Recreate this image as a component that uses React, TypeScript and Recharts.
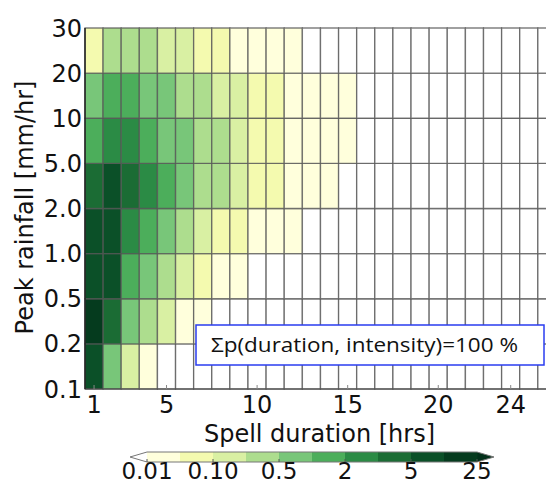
import { Bar, BarChart, Cell, Label, XAxis, YAxis } from "recharts";

const FONT = "'DejaVu Sans', sans-serif";

const DURATIONS = [1, 2, 3, 4, 5, 6, 7, 8, 9, 10, 11, 12, 13, 14, 15, 16, 17, 18, 19, 20, 21, 22, 23, 24, 25, 26];
const X_TICKS = [1, 5, 10, 15, 20, 24];
const Y_TICKS = ["0.1", "0.2", "0.5", "1.0", "2.0", "5.0", "10", "20", "30"];

// probability (%) for each spell duration, one array per peak rainfall band
const P_010_020 = [8.2, 0.8, 0.14, 0.03, 0, 0, 0, 0, 0, 0, 0, 0, 0, 0, 0, 0, 0, 0, 0, 0, 0, 0, 0, 0, 0, 0];
const P_020_050 = [13.5, 4.1, 0.72, 0.34, 0.16, 0.04, 0.02, 0, 0, 0, 0, 0, 0, 0, 0, 0, 0, 0, 0, 0, 0, 0, 0, 0, 0, 0];
const P_050_100 = [8.6, 7.4, 1.6, 0.78, 0.36, 0.17, 0.08, 0.04, 0.02, 0, 0, 0, 0, 0, 0, 0, 0, 0, 0, 0, 0, 0, 0, 0, 0, 0];
const P_100_200 = [6.9, 7.8, 2.4, 1.4, 0.74, 0.33, 0.15, 0.08, 0.06, 0.04, 0.03, 0.02, 0, 0, 0, 0, 0, 0, 0, 0, 0, 0, 0, 0, 0, 0];
const P_200_500 = [4.2, 6.8, 3.9, 2.6, 1.7, 0.8, 0.42, 0.31, 0.16, 0.08, 0.06, 0.04, 0.03, 0.02, 0, 0, 0, 0, 0, 0, 0, 0, 0, 0, 0, 0];
const P_500_10 = [1.8, 2.7, 2.3, 1.4, 0.85, 0.62, 0.38, 0.27, 0.13, 0.09, 0.06, 0.04, 0.03, 0.02, 0.015, 0, 0, 0, 0, 0, 0, 0, 0, 0, 0, 0];
const P_10_20 = [0.9, 1.6, 1.3, 0.8, 0.55, 0.4, 0.25, 0.18, 0.12, 0.08, 0.06, 0.04, 0.03, 0.02, 0.015, 0, 0, 0, 0, 0, 0, 0, 0, 0, 0, 0];
const P_20_30 = [0.07, 0.35, 0.3, 0.25, 0.16, 0.12, 0.08, 0.06, 0.04, 0.03, 0.02, 0.015, 0, 0, 0, 0, 0, 0, 0, 0, 0, 0, 0, 0, 0, 0];

const BANDS = [P_010_020, P_020_050, P_050_100, P_100_200, P_200_500, P_500_10, P_10_20, P_20_30];

const LEVELS = [0.01, 0.05, 0.1, 0.2, 0.5, 1, 2, 3, 5, 10, 25];
const LEVEL_COLORS = [
  "#ffffdc",
  "#f4faaf",
  "#d9f0a3",
  "#addd8e",
  "#78c679",
  "#4cae5b",
  "#2b8b45",
  "#1b6c34",
  "#0b5028",
  "#053b1e",
];
const UNDER_COLOR = "#ffffff";
const OVER_COLOR = "#03301a";
const CBAR_TICKS = [0.01, 0.1, 0.5, 2, 5, 25];
const CBAR_LABELS = ["0.01", "0.10", "0.5", "2", "5", "25"];

function colorFor(v: number) {
  if (v < LEVELS[0]) return UNDER_COLOR;
  for (let i = 0; i < LEVEL_COLORS.length; i++) {
    if (v < LEVELS[i + 1]) return LEVEL_COLORS[i];
  }
  return OVER_COLOR;
}

// every band is one unit tall on the y axis, stacked bottom to top
const tableData = DURATIONS.map((d) => {
  const row: Record<string, number> = { dur: d };
  BANDS.forEach((_, b) => {
    row[`b${b}`] = 1;
  });
  return row;
});

function DurationTick(props: any) {
  const { x, y, payload } = props;
  if (!X_TICKS.includes(payload.value)) return <g />;
  return (
    <g>
      <line x1={x} x2={x} y1={y} y2={y - 4} stroke="#888" />
      <text x={x} y={y + 24} textAnchor="middle" fontSize={24} fill="#111" fontFamily={FONT}>
        {payload.value}
      </text>
    </g>
  );
}

function Colorbar() {
  const x0 = 147;
  const x1 = 477;
  const y0 = 452;
  const h = 10;
  const segW = (x1 - x0) / LEVEL_COLORS.length;
  const posOf = (v: number) => x0 + LEVELS.indexOf(v) * segW;
  return (
    <g>
      <polygon points={`${x0},${y0} ${x0 - 17},${y0 + h / 2} ${x0},${y0 + h}`} fill={UNDER_COLOR} />
      <polygon points={`${x1},${y0} ${x1 + 17},${y0 + h / 2} ${x1},${y0 + h}`} fill={OVER_COLOR} />
      {LEVEL_COLORS.map((c, i) => (
        <rect key={c} x={x0 + i * segW} y={y0} width={segW + 0.5} height={h} fill={c} />
      ))}
      <polygon
        points={`${x0 - 17},${y0 + h / 2} ${x0},${y0} ${x1},${y0} ${x1 + 17},${y0 + h / 2} ${x1},${y0 + h} ${x0},${y0 + h}`}
        fill="none"
        stroke="#777"
        strokeWidth={1}
      />
      {CBAR_TICKS.map((v, i) => (
        <g key={v}>
          <line x1={posOf(v)} x2={posOf(v)} y1={y0 + h} y2={y0 + h - 3} stroke="#555" />
          <text x={posOf(v)} y={479} textAnchor="middle" fontSize={23} fill="#111" fontFamily={FONT}>
            {CBAR_LABELS[i]}
          </text>
        </g>
      ))}
    </g>
  );
}

export default function App() {
  return (
    <div
      style={{
        position: "relative",
        margin: -8,
        height: 487,
        overflow: "hidden",
        background: "#fff",
        fontFamily: FONT,
      }}
    >
      <div style={{ position: "absolute", left: 0, top: 0, width: "100%", height: 7, background: "#eef1f5" }} />
      <div
        style={{
          position: "absolute",
          left: 0,
          top: 0,
          width: 5,
          height: 260,
          background: "linear-gradient(#e8ebf0, #fff)",
        }}
      />
      <BarChart
        width={556}
        height={487}
        data={tableData}
        margin={{ top: 28, right: 0, left: 0, bottom: 0 }}
        barCategoryGap={0}
        barGap={0}
        style={{ position: "absolute", left: 0, top: 0 }}
      >
        <XAxis
          dataKey="dur"
          type="category"
          height={98}
          interval={0}
          tickLine={false}
          tickSize={0}
          tickMargin={0}
          axisLine={{ stroke: "#444", strokeWidth: 1.2 }}
          tick={<DurationTick />}
        >
          <Label
            content={(p: any) => (
              <text
                x={p.viewBox.x + p.viewBox.width / 2 - 1}
                y={p.viewBox.y + 53}
                textAnchor="middle"
                fontSize={24}
                fill="#111"
                fontFamily={FONT}
              >
                Spell duration [hrs]
              </text>
            )}
          />
        </XAxis>
        <YAxis
          type="number"
          domain={[0, 8]}
          ticks={[0, 1, 2, 3, 4, 5, 6, 7, 8]}
          interval={0}
          width={85}
          tickLine={false}
          tickSize={0}
          tickMargin={3}
          tickFormatter={(i: number) => Y_TICKS[i]}
          tick={{ fontSize: 24, fill: "#111", fontFamily: FONT }}
          axisLine={{ stroke: "#222", strokeWidth: 1.5 }}
        >
          <Label
            content={(p: any) => {
              const cy = p.viewBox.y + p.viewBox.height / 2 - 1;
              return (
                <text
                  x={33}
                  y={cy}
                  transform={`rotate(-90, 33, ${cy})`}
                  textAnchor="middle"
                  fontSize={24}
                  fill="#111"
                  fontFamily={FONT}
                >
                  Peak rainfall [mm/hr]
                </text>
              );
            }}
          />
        </YAxis>
        {BANDS.map((band, b) => (
          <Bar
            key={`b${b}`}
            dataKey={`b${b}`}
            stackId="cells"
            isAnimationActive={false}
            stroke="#555"
            strokeWidth={1.3}
            strokeOpacity={0.75}
          >
            {DURATIONS.map((d, i) => (
              <Cell key={d} fill={colorFor(band[i])} />
            ))}
          </Bar>
        ))}
      </BarChart>
      <svg width={554} height={487} style={{ position: "absolute", left: 0, top: 0, pointerEvents: "none" }}>
        <rect x={196} y={325} width={348} height={40} fill="#fff" stroke="#2a3cf0" strokeWidth={1.5} />
        <text
          x={211}
          y={352}
          textLength={307}
          lengthAdjust="spacingAndGlyphs"
          fontSize={20}
          fill="#111"
          fontFamily="'Open Sans', sans-serif"
        >
          Σp(duration, intensity)=100 %
        </text>
        <Colorbar />
      </svg>
    </div>
  );
}
